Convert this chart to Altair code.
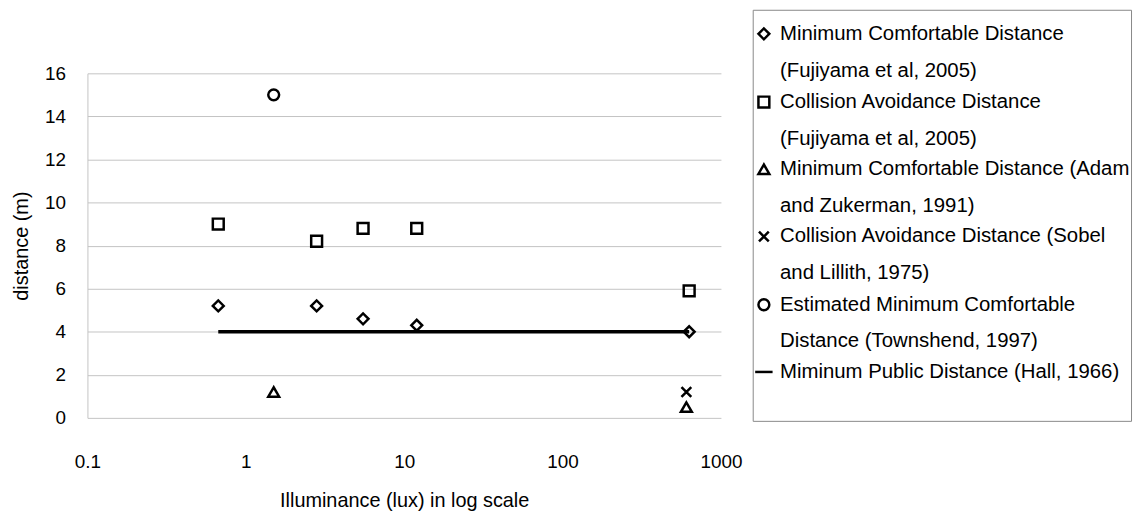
import altair as alt
import pandas as pd

# ---- data ----
series = [
    "Minimum Comfortable Distance\n(Fujiyama et al, 2005)",
    "Collision Avoidance Distance\n(Fujiyama et al, 2005)",
    "Minimum Comfortable Distance (Adam\nand Zukerman, 1991)",
    "Collision Avoidance Distance (Sobel\nand Lillith, 1975)",
    "Estimated Minimum Comfortable\nDistance (Townshend, 1997)",
    "Miminum Public Distance (Hall, 1966)\n",
]
shapes = [
    "diamond",
    "square",
    "triangle-up",
    "M-0.9,-0.9L0.9,0.9M-0.9,0.9L0.9,-0.9",
    "circle",
    "M-1.6,0H1.6",
]

mcd_fuji_x = [0.67, 2.8, 5.5, 12.0, 630.0]
mcd_fuji_y = [5.2, 5.2, 4.6, 4.3, 4.0]
cad_fuji_x = [0.67, 2.8, 5.5, 12.0, 630.0]
cad_fuji_y = [9.0, 8.2, 8.8, 8.8, 5.9]
mcd_adam_x = [1.5, 605.0]
mcd_adam_y = [1.2, 0.5]
cad_sobel_x = [605.0]
cad_sobel_y = [1.2]
est_town_x = [1.5]
est_town_y = [15.0]
hall_x = [0.67, 630.0]
hall_y = [4.0, 4.0]

x_ticks = [0.1, 1, 10, 100, 1000]
y_ticks = [0, 2, 4, 6, 8, 10, 12, 14, 16]

rows = []
for name, xs, ys in [
    (series[0], mcd_fuji_x, mcd_fuji_y),
    (series[1], cad_fuji_x, cad_fuji_y),
    (series[2], mcd_adam_x, mcd_adam_y),
    (series[3], cad_sobel_x, cad_sobel_y),
    (series[4], est_town_x, est_town_y),
]:
    for xv, yv in zip(xs, ys):
        rows.append({"series": name, "lux": xv, "dist": yv})
pts = pd.DataFrame(rows)
line_df = pd.DataFrame({"series": [series[5]] * len(hall_x), "lux": hall_x, "dist": hall_y})

FONT = "Liberation Sans"

x_enc = alt.X(
    "lux:Q",
    scale=alt.Scale(type="log", domain=[0.1, 1000], nice=False),
    axis=alt.Axis(
        values=x_ticks, format="~g", title="Illuminance (lux) in log scale",
        grid=False, domain=False, ticks=False, labelPadding=35, labelFlush=False,
        labelFontSize=19, titleFontSize=20, titlePadding=19,
        labelFont=FONT, titleFont=FONT, labelColor="black", titleColor="black",
        titleFontWeight="normal",
    ),
)
y_enc = alt.Y(
    "dist:Q",
    scale=alt.Scale(domain=[0, 16], nice=False),
    axis=alt.Axis(
        values=y_ticks, title="distance (m)", grid=True, gridColor="#c4c4c4",
        gridWidth=1, domain=True, domainColor="#c4c4c4", ticks=False,
        labelPadding=22, labelFontSize=19, titleFontSize=20, titlePadding=13,
        labelFont=FONT, titleFont=FONT, labelColor="black", titleColor="black",
        titleFontWeight="normal",
    ),
)

hall = alt.Chart(line_df).mark_line(color="black", strokeWidth=3.5).encode(
    x=x_enc, y=y_enc, detail="series:N"
)

points = alt.Chart(pts).mark_point(
    filled=False, stroke="black", strokeWidth=2.5, size=120, opacity=1
).encode(
    x=x_enc,
    y=y_enc,
    shape=alt.Shape(
        "series:N",
        scale=alt.Scale(domain=series, range=shapes),
        legend=alt.Legend(
            title=" ", titleFontSize=2, titlePadding=11,
            orient="none", legendX=670, legendY=-64,
            labelExpr="split(datum.label, '\\n')",
            labelFontSize=20.5, labelFont=FONT, labelColor="black",
            labelLimit=500, labelOffset=6, labelBaseline="middle",
            symbolSize=120, symbolStrokeWidth=2.5, symbolStrokeColor="black",
            symbolFillColor="white", padding=1, rowPadding=9.7,
            fillColor="white", strokeColor="#888888",
        ),
    ),
)

chart = (
    alt.layer(hall, points)
    .properties(
        width=638, height=347,
        autosize=alt.AutoSizeParams(type="none"),
        padding={"left": 80, "top": 64, "right": 416, "bottom": 93},
    )
    .configure(style={"guide-label": {"lineHeight": 37}})
    .configure_view(strokeWidth=0)
)

chart.save("out.html", embed_options={"renderer": "svg", "actions": False})
